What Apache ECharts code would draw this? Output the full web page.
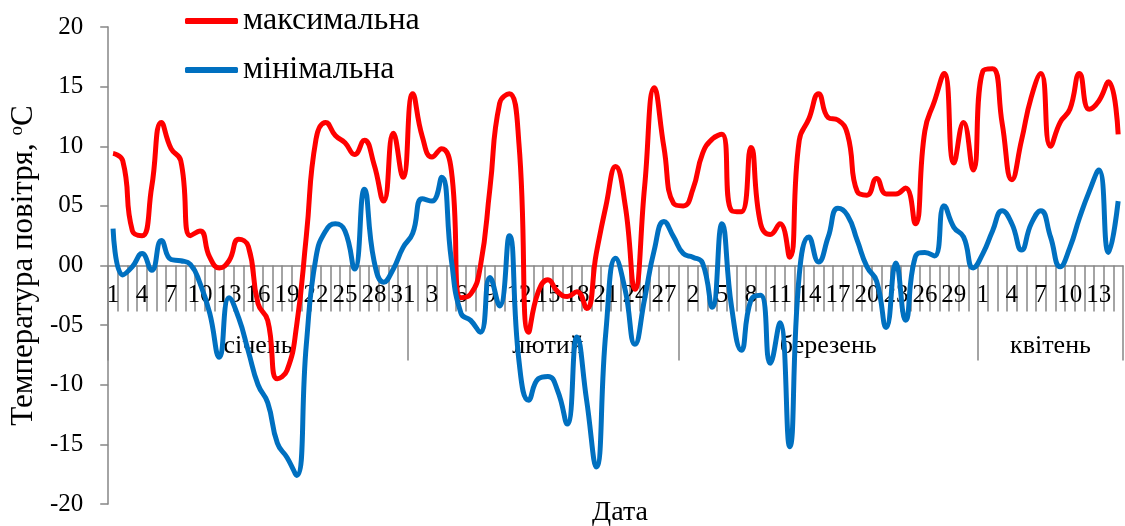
<!DOCTYPE html>
<html>
<head>
<meta charset="utf-8">
<script src="https://cdn.jsdelivr.net/npm/echarts@6/dist/echarts.min.js"></script>
<style>
  html, body { margin: 0; padding: 0; background: #fff; }
  #chart { width: 1125px; height: 526px; }
</style>
</head>
<body>
<div id="chart"></div>
<script>
// кількість днів у кожному місяці (квітень - до 15-го)
const months = ['січень', 'лютий', 'березень', 'квітень'];
const monthDays = [31, 28, 31, 15];

// максимальна температура, по днях
const tMaxJan = [9.4, 8.8, 2.9, 2.5, 6.6, 12.0, 9.8, 8.8, 2.5, 2.9, 0.7, -0.2, 0.4, 2.2, 1.6, -3.2,
  -4.6, -9.5, -8.8, -5.0, 2.5, 10.6, 12.0, 10.9, 10.3, 9.3, 10.5, 8.5, 5.4, 11.1, 7.4];
const tMaxFeb = [14.4, 10.8, 9.1, 9.8, 8.0, -2.7, -2.4, -0.1, 6.5, 13.6, 14.4, 10.2, -5.6, -2.2,
  -1.2, -2.2, -2.6, -2.2, -3.6, 1.0, 5.0, 8.3, 5.0, -2.0, 6.6, 14.9, 9.9, 5.2];
const tMaxMar = [5.0, 6.4, 9.4, 10.6, 11.0, 4.6, 4.5, 9.9, 3.5, 2.6, 3.5, 0.7, 10.5, 12.3, 14.4,
  12.4, 12.2, 11.0, 6.2, 5.9, 7.3, 6.0, 6.0, 6.5, 3.5, 11.3, 13.8, 16.1, 8.6, 12.0, 8.0];
const tMaxApr = [16.3, 16.5, 11.9, 7.2, 10.5, 14.1, 16.1, 10.0, 12.0, 13.1, 16.1, 13.1, 13.8, 15.4, 11.0];

// мінімальна температура
const tMinJan = [3.1, -0.8, -0.1, 1.0, -0.4, 2.1, 0.5, 0.4, 0.1, -1.5, -4.0, -7.7, -2.7, -4.4, -7.2,
  -10.0, -11.5, -14.9, -16.1, -17.6, -6.6, 0.7, 2.9, 3.5, 2.9, -0.3, 6.4, 0.4, -1.4, -0.3, 1.5];
const tMinFeb = [2.7, 5.6, 5.4, 7.4, 0.5, -4.0, -4.6, -5.6, -1.0, -3.4, 2.5, -8.0, -11.3, -9.5,
  -9.3, -10.5, -13.3, -6.0, -11.3, -16.9, -5.5, 0.6, -2.1, -6.6, -2.8, 1.3, 3.7, 2.4];
const tMinMar = [1.0, 0.7, 0.2, -3.5, 3.5, -3.5, -7.1, -2.9, -2.5, -8.2, -4.8, -15.2, -0.8, 2.4,
  0.3, 2.4, 4.8, 4.2, 2.1, -0.1, -1.3, -5.2, 0.2, -4.6, 0.7, 1.1, 0.8, 5.0, 3.2, 2.4, -0.2];
const tMinApr = [1.0, 2.9, 4.6, 3.5, 1.3, 3.5, 4.6, 2.4, -0.1, 1.5, 4.0, 6.2, 8.0, 1.1, 5.4];

const tMax = [].concat(tMaxJan, tMaxFeb, tMaxMar, tMaxApr);
const tMin = [].concat(tMinJan, tMinFeb, tMinMar, tMinApr);

// підписи днів та межі/середини місяців
const days = [];
const monthStart = [];
const monthMid = {};
monthDays.forEach((n, m) => {
  monthStart.push(days.length);
  monthMid[days.length + Math.floor(n / 2)] = m;
  for (let d = 1; d <= n; d++) days.push(String(d));
});

const FONT = '"Liberation Serif", "Times New Roman", serif';
const GRAY = '#868686';
const ZERO_OFFSET = -238.5; // вісь X проходить через 0 (середина сітки)

const chart = echarts.init(document.getElementById('chart'));

const option = {
  animation: false,
  textStyle: { fontFamily: FONT, color: '#000' },
  grid: { left: 108, right: 2, top: 27, bottom: 22 },
  title: {
    text: 'Дата',
    left: 615,
    top: 494,
    textAlign: 'center',
    textStyle: { fontFamily: FONT, fontSize: 28, fontWeight: 'normal', color: '#000' }
  },
  legend: {
    orient: 'vertical',
    left: 185,
    top: 5,
    padding: 0,
    itemWidth: 53,
    itemHeight: 6,
    itemGap: 17,
    icon: 'roundRect',
    textStyle: { fontFamily: FONT, fontSize: 32, color: '#000' },
    data: ['максимальна', 'мінімальна']
  },
  xAxis: [
    {
      type: 'category',
      data: days,
      position: 'bottom',
      offset: ZERO_OFFSET,
      axisLine: { show: true, onZero: false, lineStyle: { color: GRAY, width: 1.5 } },
      axisTick: { show: true, interval: 0, length: 46, lineStyle: { color: GRAY, width: 1.5 } },
      axisLabel: { show: true, interval: 2, margin: 17, fontSize: 25, fontFamily: FONT, color: '#000' }
    },
    {
      // рядок з назвами місяців
      type: 'category',
      data: days,
      position: 'bottom',
      offset: ZERO_OFFSET,
      axisLine: { show: false, onZero: false },
      axisTick: {
        show: true,
        interval: (idx) => monthStart.includes(idx),
        length: 95,
        lineStyle: { color: GRAY, width: 1.5 }
      },
      axisLabel: {
        show: true,
        interval: (idx) => monthMid[idx] !== undefined,
        margin: 68,
        fontSize: 26,
        fontFamily: FONT,
        color: '#000',
        formatter: (v, idx) => months[monthMid[idx]]
      }
    }
  ],
  yAxis: {
    type: 'value',
    min: -20,
    max: 20,
    interval: 5,
    name: 'Температура повітря, {sup|o}С',
    nameLocation: 'middle',
    nameGap: 68,
    nameTextStyle: {
      fontFamily: FONT,
      fontSize: 31,
      color: '#000',
      rich: { sup: { fontFamily: FONT, fontSize: 19, verticalAlign: 'top', color: '#000' } }
    },
    splitLine: { show: false },
    axisLine: { show: true, lineStyle: { color: GRAY, width: 1.5 } },
    axisTick: { show: true, length: 8, lineStyle: { color: GRAY, width: 1.5 } },
    axisLabel: {
      margin: 25,
      fontSize: 25,
      fontFamily: FONT,
      color: '#000',
      formatter: (v) => (v < 0 ? '-' : '') + String(Math.abs(v)).padStart(2, '0')
    }
  },
  series: [
    {
      name: 'максимальна',
      type: 'line',
      data: tMax,
      smooth: 0.5,
      showSymbol: false,
      symbol: 'none',
      color: '#FF0000',
      lineStyle: { width: 5, color: '#FF0000' }
    },
    {
      name: 'мінімальна',
      type: 'line',
      data: tMin,
      smooth: 0.5,
      showSymbol: false,
      symbol: 'none',
      color: '#0070C0',
      lineStyle: { width: 5, color: '#0070C0' }
    }
  ]
};

chart.setOption(option);
</script>
</body>
</html>
